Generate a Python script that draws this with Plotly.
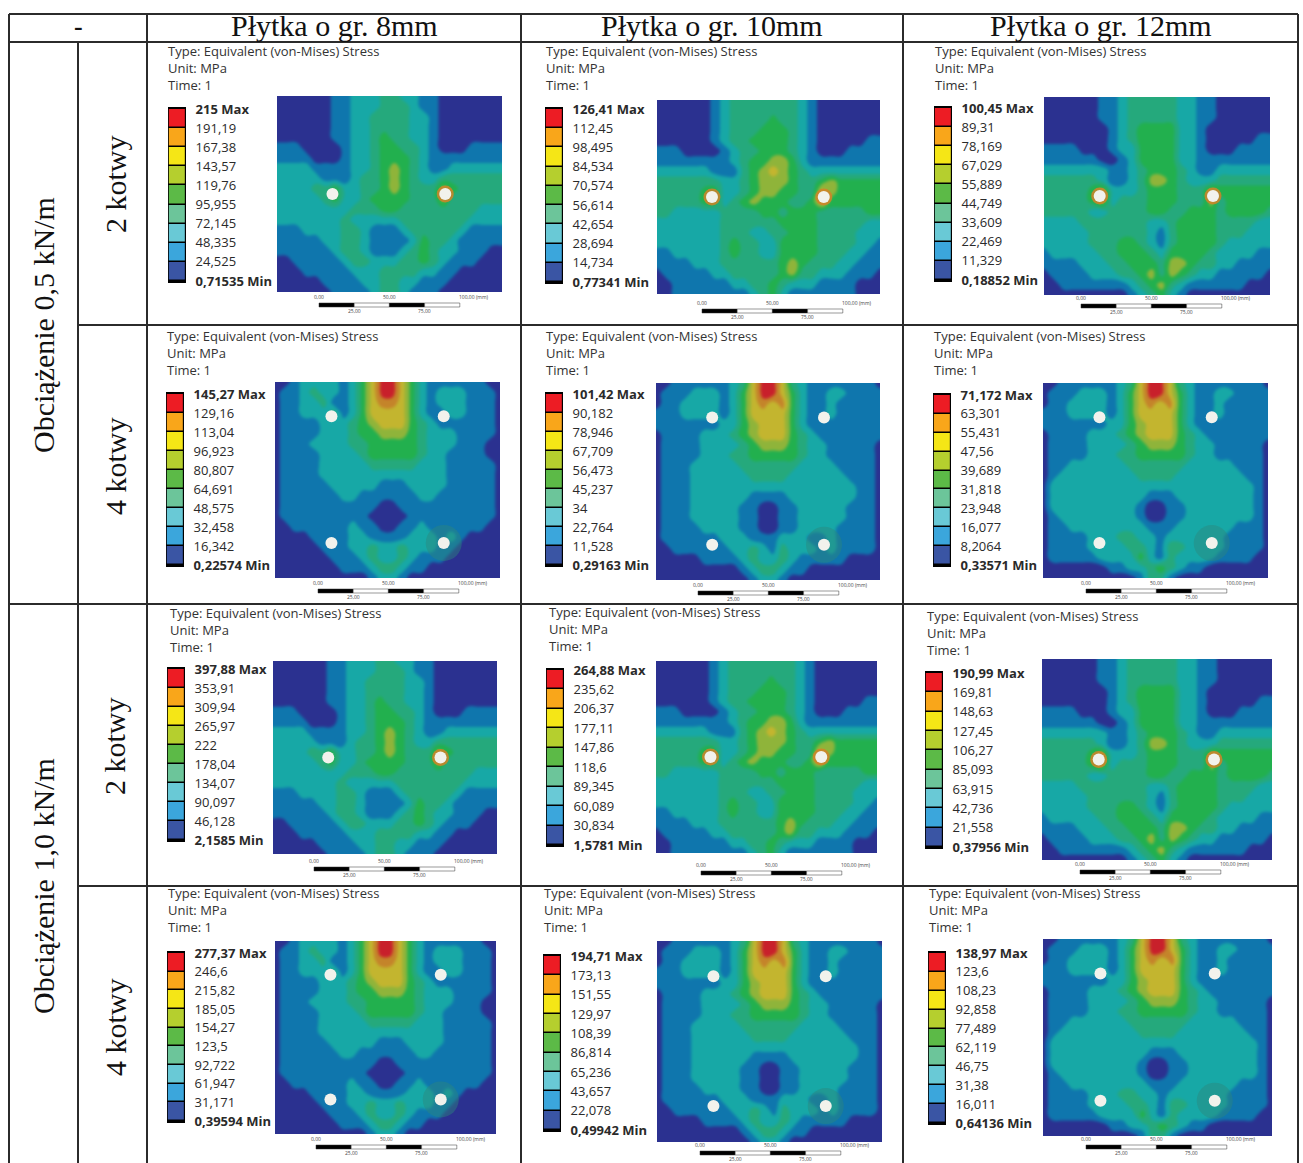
import numpy as np
import plotly.graph_objects as go

W, H = 1303, 1163

# ---------- data ----------
column_titles = ["Płytka o gr. 8mm", "Płytka o gr. 10mm", "Płytka o gr. 12mm"]
load_labels = ["Obciążenie 0,5 kN/m", "Obciążenie 1,0 kN/m"]
anchor_labels = ["2 kotwy", "4 kotwy", "2 kotwy", "4 kotwy"]
header_lines = ["Type: Equivalent (von-Mises) Stress", "Unit: MPa", "Time: 1"]

legend_r1 = [
    ["215 Max", "191,19", "167,38", "143,57", "119,76", "95,955", "72,145", "48,335", "24,525", "0,71535 Min"],
    ["126,41 Max", "112,45", "98,495", "84,534", "70,574", "56,614", "42,654", "28,694", "14,734", "0,77341 Min"],
    ["100,45 Max", "89,31", "78,169", "67,029", "55,889", "44,749", "33,609", "22,469", "11,329", "0,18852 Min"],
]
legend_r2 = [
    ["145,27 Max", "129,16", "113,04", "96,923", "80,807", "64,691", "48,575", "32,458", "16,342", "0,22574 Min"],
    ["101,42 Max", "90,182", "78,946", "67,709", "56,473", "45,237", "34", "22,764", "11,528", "0,29163 Min"],
    ["71,172 Max", "63,301", "55,431", "47,56", "39,689", "31,818", "23,948", "16,077", "8,2064", "0,33571 Min"],
]
legend_r3 = [
    ["397,88 Max", "353,91", "309,94", "265,97", "222", "178,04", "134,07", "90,097", "46,128", "2,1585 Min"],
    ["264,88 Max", "235,62", "206,37", "177,11", "147,86", "118,6", "89,345", "60,089", "30,834", "1,5781 Min"],
    ["190,99 Max", "169,81", "148,63", "127,45", "106,27", "85,093", "63,915", "42,736", "21,558", "0,37956 Min"],
]
legend_r4 = [
    ["277,37 Max", "246,6", "215,82", "185,05", "154,27", "123,5", "92,722", "61,947", "31,171", "0,39594 Min"],
    ["194,71 Max", "173,13", "151,55", "129,97", "108,39", "86,814", "65,236", "43,657", "22,078", "0,49942 Min"],
    ["138,97 Max", "123,6", "108,23", "92,858", "77,489", "62,119", "46,75", "31,38", "16,011", "0,64136 Min"],
]

# stress band index read per grid node (top row first)
two_8 = [
    "000000112223322110000000", "000000112223332110000000", "000000112233332210000000",
    "000000112233332210000000", "000000112234332210000000", "111000012234433210001111",
    "111100012234443211111111", "222211112234543211222222", "222221112334543223333333",
    "222233422334543335433333", "222223422344443335333333", "222222223334433333333222",
    "222222232222233333332222", "111222233211123333321111", "111112233211112433211111",
    "111111233211123432211100", "001111123322233432111000", "000111112223333221100000",
    "000001111223322111000000", "000000111123321110000000",
]
two_10 = [
    "000000123333333210000000", "000000123333333210000000", "000000123333433210000000",
    "000000123334443210000000", "000000123344443210000011", "111000012334443210001111",
    "111111112344554211111111", "222222111345654322222222", "333333322345554334544444",
    "333334422345544336544444", "333334423454443346444444", "332222233334434443333344",
    "222222233333344443333322", "222222233322334443333222", "222222234332244443333221",
    "112222234332244443332211", "111122233333345433322111", "011111223333345332221110",
    "001111112233432221111000", "001111111123421111111000",
]
two_12 = [
    "000000112333332211000000", "000000112333332211000000", "000000112333332211000000",
    "000000012344442210000000", "000000012344442210000011", "111100012244442210001111",
    "111111001244442211111111", "222222211234443211222222", "333333211235543222333333",
    "333334522234443335444444", "333334523334443335344444", "333332233334433444344443",
    "222233333332234444333322", "222223333332134444333222", "222223334432134444322222",
    "122222334443244443222211", "111122233444355433221111", "011112223345354322111110",
    "001111111234532111111000", "000000000123421000000000",
]
four_8 = [
    "001222212468864211111100", "011232212468864212221110", "011223112467764212221110",
    "011222312466664211221110", "011112223456664321111110", "011112223445554322211110",
    "011122223344444322211100", "011112222344444322111100", "011112222233333222111110",
    "011112222222222222111110", "011111222221112222111110", "011111122111111221111110",
    "011111111110011111111110", "011111111100001111111110", "001111112110011211111100",
    "000011112211112221210000", "000001112232232221100000", "000000111232232111000000",
    "000000011123321100000000", "000000000012210000000000",
]
four_10 = [
    "001111112368863211111110", "011122212468864211221111", "011222212467674211211111",
    "111222212466664211211111", "111111122456664211111111", "011112223456664321111111",
    "011112222345554322111110", "011112223344444322111110", "011122222333333222211110",
    "011122222233332222221110", "011122222222222222222110", "011122222211112222222110",
    "011122222110011222221110", "011122222110011222221110", "011112222110011222211110",
    "011111122211122211211110", "001111112232132221211110", "000001111232232111110000",
    "000000000123321100000000", "000000000012210000000000",
]
four_12 = [
    "001111112368863211111110", "011122212468864211221111", "011222212467674211211111",
    "111222212466664211211111", "111111122456664211111111", "011112223456664321111111",
    "011112222345554322111110", "011112223344444322111110", "011222222333333222221110",
    "012222222233332222222110", "022222222222222222222210", "022222222221112222222210",
    "022222222210011222222210", "012222222210011222222210", "011222222221112222221110",
    "011112223322122222211110", "011112222332133222211110", "011111222242132222111100",
    "000000011223432110000000", "000000000013310000000000",
]
holes_two = ([5.67, 17.2], [9.5, 9.5])
holes_four = ([5.77, 17.25, 5.77, 17.25], [3.33, 3.33, 15.6, 15.6])
ring_four = ([17.25], [15.6])
hot_two = [([17.2], [9.5]), ([5.67, 17.2], [9.5, 9.5]), ([5.67, 17.2], [9.5, 9.5])]

band_colors = ["#2b3190", "#0f76ad", "#17a8a6", "#25a97c", "#22b04e", "#8fb43a", "#c3b52f", "#c4842a", "#c8202b"]
legend_colors = ["#3a55a4", "#3ba6dc", "#69c9d6", "#6cc59a", "#5cba47", "#b5cf2e", "#f5e616", "#f9a61a", "#ed1c24"]

# ---------- layout positions (pixels) ----------
panels = [
    [(277, 96, 502, 292), (657, 100, 880, 294), (1044, 97, 1270, 295)],
    [(275, 382, 500, 578), (656, 383, 880, 580), (1043, 383, 1268, 578)],
    [(273, 661, 497, 854), (656, 661, 877, 853), (1042, 659, 1272, 860)],
    [(275, 941, 496, 1134), (657, 941, 882, 1142), (1043, 939, 1272, 1136)],
]
headers = [
    [(166, 51), (544, 51), (933, 51)],
    [(165, 336), (544, 336), (932, 336)],
    [(168, 613), (547, 612), (925, 616)],
    [(166, 893), (542, 893), (927, 893)],
]
legends = [  # bar left, first label y, last label y
    [(168, 109, 281), (545, 109, 282), (934, 108, 280)],
    [(166, 394, 565), (545, 394, 565), (933, 395, 565)],
    [(167, 669, 840), (546, 670, 845), (925, 673, 847)],
    [(167, 953, 1121), (543, 956, 1130), (928, 953, 1123)],
]
scalebars = [
    [(319, 303), (702, 309), (1081, 304)],
    [(318, 589), (698, 591), (1086, 589)],
    [(314, 867), (701, 871), (1080, 870)],
    [(316, 1145), (700, 1151), (1086, 1145)],
]
legend_sets = [legend_r1, legend_r2, legend_r3, legend_r4]
pattern_sets = [[two_8, two_10, two_12], [four_8, four_10, four_12]]
LINE = "#2b2b2b"


def px(x):
    return x / W


def py(y):
    return 1 - y / H


def grid(rows):
    return np.array([[int(c) for c in r] for r in rows], dtype=float)


cscale = [[k / 8, c] for k, c in enumerate(band_colors)]
lscale = [[k / 8, c] for k, c in enumerate(legend_colors)]

fig = go.Figure()
layout = {}
ann = []
shapes = []


def label(x, y, text, size=13, family="Open Sans", color="#333", xa="left", angle=0):
    ann.append(dict(x=px(x), y=py(y), xref="paper", yref="paper", text=text, showarrow=False,
                    xanchor=xa, yanchor="middle", textangle=angle,
                    font=dict(family=family, size=size, color=color)))


n = 0
for r in range(4):
    for c in range(3):
        n += 1
        # contour panel (edge nodes repeated outside the visible range so the soft edge stays clipped)
        ax = 2 * n - 1
        x0, y0, x1, y1 = panels[r][c]
        xn, yn = f"x{ax}", f"y{ax}"
        layout[f"xaxis{ax}"] = dict(domain=[px(x0), px(x1)], range=[0, 23], visible=False, anchor=yn, fixedrange=True)
        layout[f"yaxis{ax}"] = dict(domain=[py(y1), py(y0)], range=[19, 0], visible=False, anchor=xn, fixedrange=True)
        z = np.pad(grid(pattern_sets[r % 2][c]), 1, mode="edge")
        fig.add_trace(go.Contour(z=z, x=list(range(-1, 25)), y=list(range(-1, 21)), zmin=0, zmax=8, autocontour=False,
                                 contours=dict(start=0.5, end=7.5, size=1, coloring="fill"),
                                 line=dict(width=0, smoothing=1.3), colorscale=cscale, showscale=False, hoverinfo="skip",
                                 xaxis=xn, yaxis=yn))
        if r % 2:
            fig.add_trace(go.Scatter(x=ring_four[0], y=ring_four[1], mode="markers", xaxis=xn, yaxis=yn,
                                     marker=dict(size=36, color="rgba(45,135,125,0.45)", line=dict(width=0)),
                                     showlegend=False, hoverinfo="skip"))
        else:
            fig.add_trace(go.Scatter(x=hot_two[c][0], y=hot_two[c][1], mode="markers", xaxis=xn, yaxis=yn,
                                     marker=dict(size=17, color="rgba(208,130,40,0.85)", line=dict(width=0)),
                                     showlegend=False, hoverinfo="skip"))
        hx, hy = holes_four if r % 2 else holes_two
        fig.add_trace(go.Scatter(x=hx, y=hy, mode="markers", xaxis=xn, yaxis=yn,
                                 marker=dict(size=12, color="#f2f2ec", line=dict(width=0)),
                                 showlegend=False, hoverinfo="skip"))
        # legend bar with labels as ticks
        ax = 2 * n
        xn, yn = f"x{ax}", f"y{ax}"
        bx, l0, l9 = legends[r][c]
        unit = (l9 - l0) / 9
        labels = legend_sets[r][c]
        ticks = [f"<b>{t}</b>" if i in (0, 9) else t for i, t in enumerate(labels)]
        layout[f"xaxis{ax}"] = dict(domain=[px(bx), px(bx + 18)], range=[-0.55, 0.55], visible=False, anchor=yn, fixedrange=True)
        layout[f"yaxis{ax}"] = dict(domain=[py(l9 + 2), py(l0 - 2)],
                                    range=[-0.5 - 2 / unit, 8.5 + 2 / unit], anchor=xn, side="right",
                                    tickmode="array", tickvals=[8.5 - i for i in range(10)], ticktext=ticks,
                                    ticks="outside", ticklen=6, tickcolor="rgba(0,0,0,0)",
                                    showgrid=False, zeroline=False, showline=False, fixedrange=True,
                                    tickfont=dict(family="Open Sans", size=13, color="#2a2a2a"))
        fig.add_trace(go.Heatmap(z=[[k] for k in range(9)], y=list(range(9)), x=[0], zmin=0, zmax=8, ygap=1.5,
                                 colorscale=lscale, showscale=False, hoverinfo="skip", xaxis=xn, yaxis=yn))
        # header text
        hxp, hyp = headers[r][c]
        for i, t in enumerate(header_lines):
            label(hxp, hyp + 17 * i, t)
        # scale bar
        sx, sy = scalebars[r][c]
        for k in range(4):
            shapes.append(dict(type="rect", xref="paper", yref="paper", x0=px(sx + 35.2 * k), x1=px(sx + 35.2 * (k + 1)),
                               y0=py(sy + 4), y1=py(sy), fillcolor="#000" if k % 2 == 0 else "#fff",
                               line=dict(color="#333", width=0.5)))
        for frac, t, dy in [(0, "0,00", -6), (0.5, "50,00", -6), (1, "100,00 (mm)", -6), (0.25, "25,00", 8), (0.75, "75,00", 8)]:
            label(sx + 141 * frac + (14 if t.endswith(")") else 0), sy + dy, t, size=5, xa="center", color="#444")

# table lines
vlines = [(9, 14, H), (78, 42, H), (147, 14, H), (521, 14, H), (903, 14, H), (1298, 14, H)]
hlines = [(9, 1298, 14), (9, 1298, 42), (78, 1298, 325), (9, 1298, 604), (78, 1298, 886)]
for x, a, b in vlines:
    shapes.append(dict(type="line", xref="paper", yref="paper", x0=px(x), x1=px(x), y0=py(a), y1=py(b),
                       line=dict(color=LINE, width=2)))
for a, b, y in hlines:
    shapes.append(dict(type="line", xref="paper", yref="paper", x0=px(a), x1=px(b), y0=py(y), y1=py(y),
                       line=dict(color=LINE, width=2)))

SERIF = "Liberation Serif"
label(78, 27, "<b>-</b>", size=26, family=SERIF, color="#111", xa="center")
for cx, t in zip([334, 712, 1101], column_titles):
    label(cx, 26, t, size=30, family=SERIF, color="#111", xa="center")
for cy, t in zip([325, 886], load_labels):
    label(43, cy, t, size=30, family=SERIF, color="#111", xa="center", angle=-90)
for cy, t in zip([184, 466, 746, 1027], anchor_labels):
    label(115, cy, t, size=30, family=SERIF, color="#111", xa="center", angle=-90)

fig.update_layout(width=W, height=H, margin=dict(l=0, r=0, t=0, b=0, pad=0, autoexpand=False), paper_bgcolor="white",
                  plot_bgcolor="black", showlegend=False, annotations=ann, shapes=shapes, **layout)
fig.write_html("out.html", config=dict(displayModeBar=False),
               post_script=("document.body.style.margin='0';document.documentElement.style.overflow='hidden';"
                            "var s=document.createElement('style');"
                            "s.textContent='.contourlayer .contour{filter:blur(1.6px);}';"
                            "document.head.appendChild(s);"))
